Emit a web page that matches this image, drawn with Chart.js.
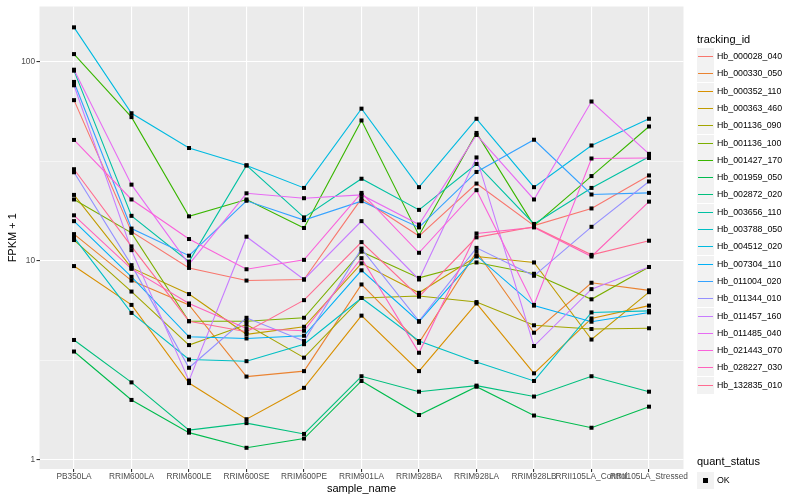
<!DOCTYPE html>
<html>
<head>
<meta charset="utf-8">
<script src="https://cdn.jsdelivr.net/npm/chart.js@4.4.0/dist/chart.umd.min.js"></script>
<style>
body { margin: 0; background: #fff; font-family: 'Liberation Sans', Arial, sans-serif; }
#wrap { position: relative; width: 800px; height: 500px; }
#legend { position: absolute; left: 697px; top: 0; width: 103px; height: 500px; }
.ttl { position: absolute; left: 0; font-size: 11px; line-height: 14px; color: #000; white-space: nowrap; }
.key { position: absolute; left: 0; width: 17px; height: 17px; background: #F2F2F2; }
.key span { position: absolute; left: 1px; right: 1px; top: 7.5px; height: 1.6px; }
.lab { position: absolute; left: 20px; font-size: 8.8px; line-height: 12px; color: #000; white-space: nowrap; }
</style>
</head>
<body>
<div id="wrap">
  <canvas id="canvas" width="800" height="500"></canvas>
  <div id="legend"></div>
</div>
<script>
var categories = ['PB350LA', 'RRIM600LA', 'RRIM600LE', 'RRIM600SE', 'RRIM600PE', 'RRIM901LA',
  'RRIM928BA', 'RRIM928LA', 'RRIM928LB', 'RRII105LA_Control', 'RRII105LA_Stressed'];

var seriesNames = ['Hb_000028_040', 'Hb_000330_050', 'Hb_000352_110', 'Hb_000363_460', 'Hb_001136_090',
  'Hb_001136_100', 'Hb_001427_170', 'Hb_001959_050', 'Hb_002872_020', 'Hb_003656_110',
  'Hb_003788_050', 'Hb_004512_020', 'Hb_007304_110', 'Hb_011004_020', 'Hb_011344_010',
  'Hb_011457_160', 'Hb_011485_040', 'Hb_021443_070', 'Hb_028227_030', 'Hb_132835_010'];

var seriesColors = ['#F8766D', '#EA8331', '#D89000', '#C09B00', '#A3A500', '#7CAE00', '#39B600',
  '#00BB4E', '#00BF7D', '#00C1A3', '#00BFC4', '#00BAE0', '#00B0F6', '#35A2FF', '#9590FF',
  '#C77CFF', '#E76BF3', '#FA62DB', '#FF62BC', '#FF6C91'];

// FPKM + 1 per sample
var hb_000028_040 = [64, 14.0, 9.2, 7.95, 8.05, 20.5, 13.3, 24.4, 15.0, 18.3, 26.8];
var hb_000330_050 = [13.6, 7.95, 6.0, 2.62, 2.79, 7.6, 3.87, 11.1, 4.35, 7.75, 7.1];
var hb_000352_110 = [9.4, 6.0, 2.43, 1.6, 2.3, 5.3, 2.79, 6.1, 2.72, 5.13, 5.95];
var hb_000363_460 = [21.4, 9.2, 6.8, 4.27, 4.66, 9.7, 6.9, 10.5, 9.8, 4.02, 6.95];
var hb_001136_090 = [12.7, 7.0, 3.77, 4.78, 3.26, 6.5, 6.65, 6.2, 4.74, 4.54, 4.58];
var hb_001136_100 = [20.3, 13.8, 4.97, 4.97, 5.17, 11.1, 8.2, 9.8, 8.6, 6.4, 9.3];
var hb_001427_170 = [109, 52.6, 16.7, 20.3, 14.6, 50.6, 13.4, 43.8, 15.0, 26.6, 47.2];
var hb_001959_050 = [3.5, 2.0, 1.37, 1.15, 1.28, 2.49, 1.68, 2.33, 1.67, 1.45, 1.85];
var hb_002872_020 = [4.0, 2.45, 1.41, 1.53, 1.35, 2.63, 2.2, 2.36, 2.08, 2.63, 2.2];
var hb_003656_110 = [90, 16.8, 9.9, 30.1, 16.5, 25.8, 18.0, 30.6, 15.3, 23.2, 33.3];
var hb_003788_050 = [13.1, 5.47, 3.19, 3.13, 3.81, 6.5, 3.95, 3.1, 2.49, 5.5, 5.6];
var hb_004512_020 = [148.5, 55, 36.8, 30.1, 23.2, 58, 23.4, 51.6, 23.4, 37.9, 51.6];
var hb_007304_110 = [15.8, 8.3, 4.15, 4.07, 4.2, 8.95, 4.94, 10.6, 5.95, 4.94, 5.5];
var hb_011004_020 = [79, 14.5, 10.6, 20.0, 16.0, 19.9, 14.7, 27.9, 40.5, 21.5, 21.9];
var hb_011344_010 = [27.8, 9.5, 2.9, 5.17, 3.95, 11.5, 4.97, 11.6, 8.4, 14.8, 25];
var hb_011457_160 = [76, 11.3, 2.5, 13.2, 8.05, 15.8, 8.05, 33, 3.73, 7.2, 9.3];
var hb_011485_040 = [91, 24.1, 9.6, 21.8, 20.6, 21.4, 15.2, 42.8, 20.3, 63, 34.4];
var hb_021443_070 = [40.4, 20.3, 12.85, 9.06, 10.1, 21.9, 10.96, 22.6, 6.0, 32.6, 32.8];
var hb_028227_030 = [16.9, 9.1, 6.1, 4.57, 4.45, 10.3, 3.45, 13.7, 14.7, 10.5, 19.8];
var hb_132835_010 = [28.8, 11.8, 4.97, 4.4, 6.34, 12.4, 6.6, 13.1, 14.8, 10.7, 12.6];

var seriesValues = [hb_000028_040, hb_000330_050, hb_000352_110, hb_000363_460, hb_001136_090,
  hb_001136_100, hb_001427_170, hb_001959_050, hb_002872_020, hb_003656_110,
  hb_003788_050, hb_004512_020, hb_007304_110, hb_011004_020, hb_011344_010,
  hb_011457_160, hb_011485_040, hb_021443_070, hb_028227_030, hb_132835_010];

var yBreaks = [1, 3.1623, 10, 31.623, 100];
var yLabels = [1, 10, 100];

var panelBg = {
  id: 'panelBg',
  beforeDraw: function(chart) {
    var a = chart.chartArea, c = chart.ctx;
    c.save();
    c.fillStyle = '#EBEBEB';
    c.fillRect(a.left, a.top, a.right - a.left, a.bottom - a.top);
    c.restore();
  }
};

// black squares for quant_status = OK, drawn over all lines
var okPoints = {
  id: 'okPoints',
  afterDatasetsDraw: function(chart) {
    var c = chart.ctx;
    c.save();
    c.fillStyle = '#000';
    chart.data.datasets.forEach(function(ds, i) {
      chart.getDatasetMeta(i).data.forEach(function(p) {
        c.fillRect(p.x - 2, p.y - 2, 4, 4);
      });
    });
    c.restore();
  }
};

var datasets = seriesValues.map(function(vals, i) {
  return {
    label: seriesNames[i],
    data: vals.map(function(v, j) { return { x: j, y: v }; }),
    borderColor: seriesColors[i],
    backgroundColor: seriesColors[i],
    borderWidth: 1.1,
    pointRadius: 0,
    tension: 0,
    fill: false,
    order: 20 - i
  };
});

window.onload = function() {
  var ctx = document.getElementById('canvas').getContext('2d');
  new Chart(ctx, {
    type: 'line',
    data: { datasets: datasets },
    plugins: [panelBg, okPoints],
    options: {
      responsive: false,
      animation: false,
      layout: { padding: { top: 6, right: 116.5, left: 0, bottom: 0 } },
      plugins: { legend: { display: false }, tooltip: { enabled: false } },
      scales: {
        x: {
          type: 'linear',
          min: -0.6,
          max: 10.6,
          afterBuildTicks: function(scale) {
            scale.ticks = categories.map(function(c, i) { return { value: i }; });
          },
          afterFit: function(scale) { scale.height = 31; },
          ticks: {
            autoSkip: false,
            maxRotation: 0,
            padding: 0,
            color: '#4D4D4D',
            font: { family: 'Liberation Sans', size: 8.3 },
            callback: function(v) { return categories[v]; }
          },
          grid: { color: '#FFFFFF', lineWidth: 1.1, tickColor: '#333333', tickLength: 3 },
          border: { display: false },
          title: {
            display: true,
            text: 'sample_name',
            color: '#000',
            font: { family: 'Liberation Sans', size: 11 },
            padding: { top: 0, bottom: 4 }
          }
        },
        y: {
          type: 'logarithmic',
          min: 0.9,
          max: 189,
          afterBuildTicks: function(scale) {
            scale.ticks = yBreaks.map(function(v) { return { value: v }; });
          },
          afterFit: function(scale) { scale.width = 39.5; },
          ticks: {
            padding: 1.5,
            color: '#4D4D4D',
            font: { family: 'Liberation Sans', size: 8.3 },
            callback: function(v) { return yLabels.indexOf(v) >= 0 ? String(v) : ''; }
          },
          grid: {
            color: '#FFFFFF',
            lineWidth: function(c) { return yLabels.indexOf(c.tick.value) >= 0 ? 1.1 : 0.5; },
            tickColor: function(c) { return yLabels.indexOf(c.tick.value) >= 0 ? '#333333' : 'rgba(0,0,0,0)'; },
            tickLength: 3
          },
          border: { display: false },
          title: {
            display: true,
            text: 'FPKM + 1',
            color: '#000',
            font: { family: 'Liberation Sans', size: 11 },
            padding: { top: 6, bottom: 0 }
          }
        }
      }
    }
  });

  // ggplot-style legends
  var html = '<div class="ttl" style="top:32px">tracking_id</div>';
  seriesNames.forEach(function(n, i) {
    var top = Math.round(48 + i * 17.3);
    html += '<div class="key" style="top:' + top + 'px"><span style="background:' + seriesColors[i] + '"></span></div>' +
            '<div class="lab" style="top:' + (top + 2) + 'px">' + n + '</div>';
  });
  html += '<div class="ttl" style="top:454px">quant_status</div>';
  html += '<div class="key" style="top:472px"><span style="left:6px;right:auto;top:6px;width:5px;height:5px;background:#000"></span></div>' +
          '<div class="lab" style="top:474px">OK</div>';
  document.getElementById('legend').innerHTML = html;
};
</script>
</body>
</html>
